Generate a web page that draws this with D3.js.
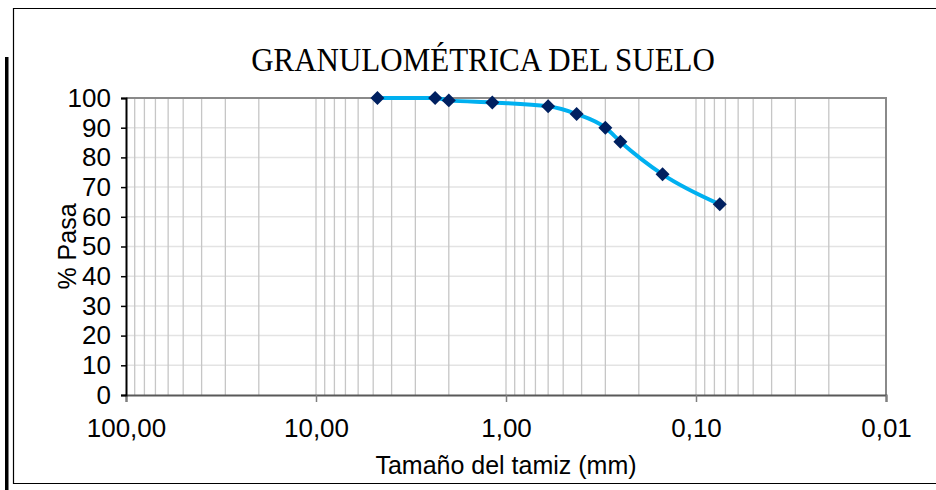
<!DOCTYPE html>
<html>
<head>
<meta charset="utf-8">
<script src="https://cdn.jsdelivr.net/npm/d3@7"></script>
<style>
  body { margin: 0; background: #fff; }
  svg { display: block; }
</style>
</head>
<body>
<svg width="936" height="490"></svg>
<script>
// tamaño de tamiz (mm) y % que pasa
const sizes = [4.75, 2.36, 2.00, 1.18, 0.60, 0.425, 0.30, 0.25, 0.15, 0.075];
const pasa = [100, 100, 99.2, 98.5, 97.2, 94.6, 90.0, 85.3, 74.3, 64.2];
const xTicks = [100, 10, 1, 0.1, 0.01];
const xTickLabels = ["100,00", "10,00", "1,00", "0,10", "0,01"];
const yTicks = d3.range(0, 101, 10);

const svg = d3.select("svg");

const margin = {top: 98, right: 50, bottom: 95, left: 126},
      width = 886 - margin.left,
      height = 395 - margin.top;

const sans = "Liberation Sans, Arial, sans-serif";

// marco exterior
svg.append("path")
    .attr("d", "M936,8.5 H13.5 V483.5 H936")
    .attr("fill", "none")
    .attr("stroke", "#000")
    .attr("stroke-width", 1.2);
svg.append("rect")
    .attr("x", 5).attr("y", 57)
    .attr("width", 3.5).attr("height", 433)
    .attr("fill", "#000");

const g = svg.append("g")
    .attr("transform", `translate(${margin.left},${margin.top})`);

const x = d3.scaleLog()
    .domain([100, 0.01])
    .range([0, width]);

const y = d3.scaleLinear()
    .domain([0, 100])
    .range([height, 0]);

// líneas de cuadrícula
const minor = [];
[100, 10, 1, 0.1].forEach(dec => {
    for (let k = 1; k <= 9; k++) minor.push(dec / 10 * k);
});

g.selectAll(".hgrid")
    .data(yTicks.slice(1, -1))
    .enter().append("line")
    .attr("x1", 0).attr("x2", width)
    .attr("y1", d => y(d)).attr("y2", d => y(d))
    .attr("stroke", "#e3e3e3")
    .attr("stroke-width", 1.5);

g.selectAll(".vgrid")
    .data(minor.filter(d => d < 100 && d > 0.01))
    .enter().append("line")
    .attr("x1", d => x(d)).attr("x2", d => x(d))
    .attr("y1", 0).attr("y2", height)
    .attr("stroke", "#c6c6c6")
    .attr("stroke-width", 1.3);

// borde superior y derecho
g.append("path")
    .attr("d", `M0,0 H${width} V${height}`)
    .attr("fill", "none")
    .attr("stroke", "#8a8a8a")
    .attr("stroke-width", 2);

// eje x
const xAxis = g.append("g")
    .attr("transform", `translate(0,${height})`)
    .call(d3.axisBottom(x)
        .tickValues(xTicks)
        .tickFormat((d, i) => xTickLabels[i])
        .tickSize(7)
        .tickPadding(17));
xAxis.select(".domain").attr("stroke", "#595959").attr("stroke-width", 2);
xAxis.selectAll(".tick line").attr("stroke", "#7f7f7f").attr("stroke-width", 1.5);
xAxis.selectAll("text")
    .attr("font-family", sans)
    .attr("font-size", 26)
    .attr("fill", "#000");

// eje y
const yAxis = g.append("g")
    .call(d3.axisLeft(y)
        .tickValues(yTicks)
        .tickSize(5)
        .tickPadding(10));
yAxis.select(".domain").attr("stroke", "#000").attr("stroke-width", 2);
yAxis.selectAll(".tick line").attr("stroke", "#000").attr("stroke-width", 1.5);
yAxis.selectAll("text")
    .attr("font-family", sans)
    .attr("font-size", 26)
    .attr("fill", "#000");

// curva granulométrica
const pts = sizes.map((s, i) => [x(s), y(pasa[i])]);

g.append("path")
    .datum(pts)
    .attr("fill", "none")
    .attr("stroke", "#00b0f0")
    .attr("stroke-width", 4)
    .attr("d", d3.line().curve(d3.curveMonotoneX));

g.selectAll(".pt")
    .data(pts)
    .enter().append("path")
    .attr("d", d3.symbol(d3.symbolSquare, 98))
    .attr("transform", d => `translate(${d[0]},${d[1]}) rotate(45)`)
    .attr("fill", "#002060");

// títulos
svg.append("text")
    .attr("transform", "translate(483,71) scale(1,1.12)")
    .attr("text-anchor", "middle")
    .attr("font-family", "Liberation Serif, Times New Roman, serif")
    .attr("font-size", 31)
    .text("GRANULOMÉTRICA DEL SUELO");

svg.append("text")
    .attr("x", margin.left + width / 2).attr("y", 474)
    .attr("text-anchor", "middle")
    .attr("font-family", sans)
    .attr("font-size", 25)
    .text("Tamaño del tamiz (mm)");

svg.append("text")
    .attr("transform", `translate(76,${margin.top + height / 2}) rotate(-90)`)
    .attr("text-anchor", "middle")
    .attr("font-family", sans)
    .attr("font-size", 25)
    .text("% Pasa");
</script>
</body>
</html>
